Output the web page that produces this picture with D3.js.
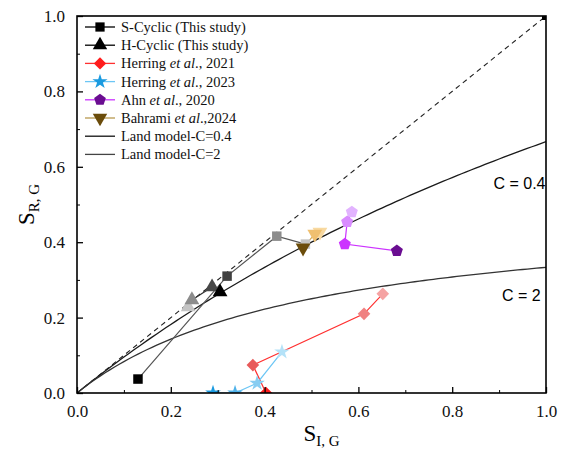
<!DOCTYPE html>
<html>
<head>
<meta charset="utf-8">
<script src="https://cdn.jsdelivr.net/npm/d3@7"></script>
<style>
  body { margin: 0; background: #fff; }
  svg { display: block; }
</style>
</head>
<body>
<div id="chart"></div>
<script>
// data (S_I,G , S_R,G), first point darkest
const sCyclic = [[0.130, 0.037], [0.320, 0.310], [0.426, 0.416], [0.487, 0.395]];
const hCyclic = [[0.305, 0.268], [0.288, 0.281], [0.245, 0.247], [0.237, 0.228]];
const herring2021 = [[0.403, 0.0], [0.375, 0.074], [0.612, 0.210], [0.652, 0.263]];
const herring2023 = [[0.290, 0.0], [0.337, 0.0], [0.384, 0.026], [0.437, 0.109]];
const ahn2020 = [[0.682, 0.377], [0.571, 0.395], [0.576, 0.454], [0.586, 0.480]];
const bahrami2024 = [[0.482, 0.385], [0.507, 0.422], [0.518, 0.427]];

const landC = [0.5, 2];
const landLabels = ['C = 0.4', 'C = 2'];
const xTicks = [0, 0.2, 0.4, 0.6, 0.8, 1.0];
const yTicks = [0, 0.2, 0.4, 0.6, 0.8, 1.0];

const W = 566, H = 450;
const m = {left: 77, top: 16, right: 20, bottom: 57};
const pw = W - m.left - m.right, ph = H - m.top - m.bottom;

const svg = d3.select('#chart').append('svg')
    .attr('width', W).attr('height', H);

const x = d3.scaleLinear().domain([0, 1]).range([0, pw]);
const y = d3.scaleLinear().domain([0, 1]).range([ph, 0]);

svg.append('defs').append('clipPath').attr('id', 'clip')
    .append('rect').attr('width', pw).attr('height', ph);

const g = svg.append('g').attr('transform', `translate(${m.left},${m.top})`);
const plot = g.append('g').attr('clip-path', 'url(#clip)');

// 1:1 dashed line
plot.append('line')
    .attr('x1', x(0)).attr('y1', y(0)).attr('x2', x(1)).attr('y2', y(1))
    .attr('stroke', '#222').attr('stroke-width', 1.1).attr('stroke-dasharray', '5,4');

// Land model curves
const sGrid = d3.range(0, 1.0001, 0.01);
const landColors = ['#1a1a1a', '#333'];
landC.forEach((c, i) => {
  plot.append('path')
      .datum(sGrid)
      .attr('fill', 'none')
      .attr('stroke', landColors[i])
      .attr('stroke-width', 1.3)
      .attr('d', d3.line().x(d => x(d)).y(d => y(d / (1 + c * d))));
});

g.append('text').attr('x', x(0.888)).attr('y', y(0.54))
    .attr('font-family', 'Liberation Sans, Arial, sans-serif').attr('font-size', 16)
    .text(landLabels[0]);
g.append('text').attr('x', x(0.906)).attr('y', y(0.245))
    .attr('font-family', 'Liberation Sans, Arial, sans-serif').attr('font-size', 16)
    .text(landLabels[1]);

// pentagon symbol
const pentagon = {
  draw(ctx, size) {
    const r = Math.sqrt(size / 2.378);
    for (let k = 0; k < 5; k++) {
      const a = -Math.PI / 2 + k * 2 * Math.PI / 5;
      const px = r * Math.cos(a), py = r * Math.sin(a);
      if (k === 0) ctx.moveTo(px, py); else ctx.lineTo(px, py);
    }
    ctx.closePath();
  }
};

const series = [
  {name: 'S-Cyclic (This study)', data: sCyclic, sym: d3.symbolSquare, size: 90, rot: 0,
   line: '#555', colors: ['#000000', '#404040', '#8c8c8c', '#c4c4c4'], legendLine: '#000', legendMark: '#000'},
  {name: 'H-Cyclic (This study)', data: hCyclic, sym: d3.symbolTriangle, size: 95, rot: 0,
   line: '#333', colors: ['#000000', '#474747', '#8c8c8c', '#c4c4c4'], legendLine: '#000', legendMark: '#000'},
  {name: 'Herring 2021', data: herring2021, sym: d3.symbolSquare, size: 80, rot: 45,
   line: '#ff3030', colors: ['#ff1c1c', '#e85a5a', '#f08282', '#f5a3a3'], legendLine: '#ff3030', legendMark: '#ff1c1c'},
  {name: 'Herring 2023', data: herring2023, sym: d3.symbolStar, size: 75, rot: 0,
   line: '#6cc6f5', colors: ['#1a9ae0', '#4fb2ea', '#88cdf2', '#b4e2f8'], legendLine: '#6cc6f5', legendMark: '#1a9ae0'},
  {name: 'Ahn 2020', data: ahn2020, sym: pentagon, size: 95, rot: 0,
   line: '#cc33ff', colors: ['#6a0d91', '#cc33ff', '#d98cff', '#e2b3ff'], legendLine: '#cc33ff', legendMark: '#6a0d91'},
  {name: 'Bahrami 2024', data: bahrami2024, sym: d3.symbolTriangle, size: 95, rot: 180,
   line: '#d4a850', colors: ['#6b4c0b', '#f0c070', '#f8d9a0'], legendLine: '#b89a50', legendMark: '#6b4c0b'}
];

series.forEach(s => {
  plot.append('path')
      .datum(s.data)
      .attr('fill', 'none')
      .attr('stroke', s.line)
      .attr('stroke-width', 1.2)
      .attr('d', d3.line().x(d => x(d[0])).y(d => y(d[1])));
});
// draw markers lightest first so darker sit on top
series.forEach(s => {
  plot.selectAll(null)
      .data(s.data.map((d, i) => ({d, i})).reverse())
      .join('path')
      .attr('transform', p => `translate(${x(p.d[0])},${y(p.d[1])}) rotate(${s.rot})`)
      .attr('d', d3.symbol(s.sym, s.size))
      .attr('fill', p => s.colors[p.i]);
});

// small square at the end of the 1:1 line
g.append('rect').attr('x', x(1) - 4).attr('y', y(1)).attr('width', 4).attr('height', 4).attr('fill', '#000');

// axes
const serif = 'Liberation Serif, Times New Roman, serif';
const xAxis = d3.axisBottom(x).tickValues(xTicks).tickSizeInner(-6).tickSizeOuter(0)
    .tickPadding(12).tickFormat(d3.format('.1f'));
const xMinor = d3.axisBottom(x).tickValues(d3.range(0.1, 1, 0.2)).tickSize(-3).tickFormat('');
const yAxis = d3.axisLeft(y).tickValues(yTicks).tickSizeInner(-6).tickSizeOuter(0)
    .tickPadding(12).tickFormat(d3.format('.1f'));
const yMinor = d3.axisLeft(y).tickValues(d3.range(0.1, 1, 0.2)).tickSize(-3).tickFormat('');

const gx = g.append('g').attr('transform', `translate(0,${ph})`).call(xAxis);
g.append('g').attr('transform', `translate(0,${ph})`).call(xMinor).select('.domain').remove();
const gy = g.append('g').call(yAxis);
g.append('g').call(yMinor).select('.domain').remove();
[gx, gy].forEach(a => {
  a.selectAll('text').attr('font-family', serif).attr('font-size', 17).attr('fill', '#111');
  a.selectAll('line').attr('stroke', '#000').attr('stroke-width', 1.3);
});
g.selectAll('.domain').remove();

// frame
g.append('rect').attr('width', pw).attr('height', ph)
    .attr('fill', 'none').attr('stroke', '#000').attr('stroke-width', 1.6);

// axis titles
const xt = svg.append('text').attr('x', m.left + pw / 2 + 10).attr('y', 441)
    .attr('text-anchor', 'middle').attr('font-family', serif).attr('font-size', 23);
xt.append('tspan').text('S');
xt.append('tspan').attr('font-size', 15).attr('dy', 5).text('I, G');

const yt = svg.append('text').attr('transform', `translate(34,${m.top + ph / 2}) rotate(-90)`)
    .attr('text-anchor', 'middle').attr('font-family', serif).attr('font-size', 23);
yt.append('tspan').text('S');
yt.append('tspan').attr('font-size', 15).attr('dy', 5).text('R, G');

// legend
const leg = g.append('g').attr('transform', 'translate(8,11)');
const legendItems = [
  {s: series[0], parts: [['S-Cyclic (This study)', false]]},
  {s: series[1], parts: [['H-Cyclic (This study)', false]]},
  {s: series[2], parts: [['Herring ', false], ['et al', true], ['., 2021', false]]},
  {s: series[3], parts: [['Herring ', false], ['et al', true], ['., 2023', false]]},
  {s: series[4], parts: [['Ahn ', false], ['et al', true], ['., 2020', false]]},
  {s: series[5], parts: [['Bahrami ', false], ['et al', true], ['.,2024', false]]},
  {s: null, color: '#111', parts: [['Land model-C=0.4', false]]},
  {s: null, color: '#444', parts: [['Land model-C=2', false]]}
];
legendItems.forEach((it, i) => {
  const row = leg.append('g').attr('transform', `translate(0,${i * 18.2})`);
  row.append('line').attr('x1', 0).attr('x2', 30)
      .attr('stroke', it.s ? it.s.legendLine : it.color).attr('stroke-width', 1.3);
  if (it.s) {
    row.append('path')
        .attr('transform', `translate(15,0) rotate(${it.s.rot})`)
        .attr('d', d3.symbol(it.s.sym, it.s.size * 0.95))
        .attr('fill', it.s.legendMark);
  }
  const t = row.append('text').attr('x', 36).attr('y', 5)
      .attr('font-family', serif).attr('font-size', 14.5).attr('fill', '#111');
  it.parts.forEach(p => {
    t.append('tspan').attr('font-style', p[1] ? 'italic' : 'normal').text(p[0]);
  });
});
</script>
</body>
</html>
